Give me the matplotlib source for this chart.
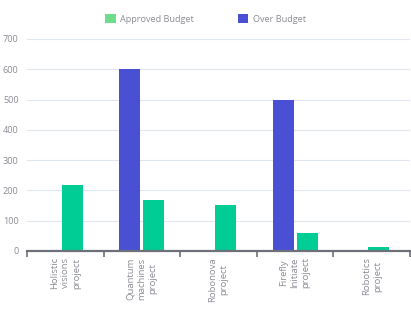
import numpy as np
import matplotlib
matplotlib.use("Agg")
import matplotlib.pyplot as plt
from matplotlib.patches import Patch

plt.rcParams['font.family'] = ['Open Sans', 'DejaVu Sans']

categories = ["Holistic\nvisions\nproject", "Quantum\nmachines\nproject",
              "Robonova\nproject", "Firefly\nInitiate\nproject", "Robotics\nproject"]
over_budget = [0, 600, 0, 500, 0]
approved_budget = [218, 168, 152, 60, 12]

green = "#00cc96"
green_legend = "#6fdc8c"
blue = "#4a50d4"
text_gray = "#8a8c94"
axis_gray = "#6e7079"

fig = plt.figure(figsize=(4.11, 3.09), dpi=100)
ax = fig.add_axes([27 / 411, 58 / 309, 383 / 411, 212 / 309])

x = np.arange(len(categories))
w = 0.274
# green bars sit closer to the centre when there is no blue bar
green_off = np.array([0.157 if v > 0 else 0.095 for v in over_budget])
ax.bar(x - 0.157, over_budget, width=w, color=blue, zorder=3)
ax.bar(x + green_off, approved_budget, width=w, color=green, zorder=3)

ax.set_xlim(-0.5, len(categories) - 0.5)
ax.set_ylim(0, 700)
ax.set_yticks(range(0, 701, 100))
ax.yaxis.grid(True, color="#e0e6f1", linewidth=0.8, zorder=0)
ax.tick_params(axis="y", length=0, labelsize=6.6, labelcolor=text_gray, pad=6)

for s in ["top", "right", "left"]:
    ax.spines[s].set_visible(False)
ax.spines["bottom"].set_color(axis_gray)
ax.spines["bottom"].set_linewidth(1.6)
ax.spines["bottom"].set_zorder(4)

ax.set_xticks(np.arange(-0.5, len(categories), 1.0))
ax.set_xticklabels([])
ax.tick_params(axis="x", length=4, width=1.2, color=axis_gray, direction="out")

for i, lab in enumerate(categories):
    ax.annotate(lab, xy=(i, 0), xycoords=("data", "axes fraction"),
                xytext=(0, -4.5), textcoords="offset points",
                rotation=90, ha="center", va="top", multialignment="center",
                fontsize=6.8, color=text_gray, linespacing=1.3)

handles = [Patch(facecolor=green_legend, edgecolor="none", label="Approved Budget"),
           Patch(facecolor=blue, edgecolor="none", label="Over Budget")]
fig.legend(handles=handles, loc="center", bbox_to_anchor=(0.5, 1 - 19 / 309),
           ncol=2, frameon=False, fontsize=6.6, labelcolor=text_gray,
           handlelength=1.1, handleheight=1.1, columnspacing=4.8, handletextpad=0.5)

fig.savefig("out.png", dpi=100)
